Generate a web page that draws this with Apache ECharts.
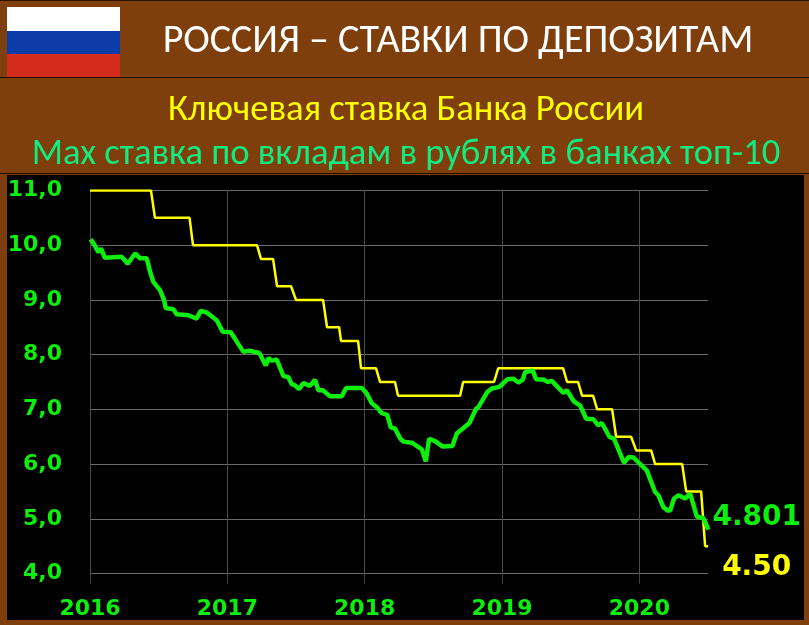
<!DOCTYPE html>
<html><head><meta charset="utf-8">
<style>html,body{margin:0;padding:0;background:#7F3F0C}#c{width:809px;height:625px}</style>
<script src="https://cdn.jsdelivr.net/npm/echarts@6/dist/echarts.min.js"></script></head>
<body><div id="c"></div>
<script>
const titleText = 'РОССИЯ – СТАВКИ ПО ДЕПОЗИТАМ';
const keyRateName = 'Ключевая ставка Банка России';
const depositName = 'Max ставка по вкладам в рублях в банках топ-10';
const yearTicks = [2016, 2017, 2018, 2019, 2020];
const valueTicks = [4, 5, 6, 7, 8, 9, 10, 11];

// Years elapsed since 2016 and the rate at each reading
const keyRateT = [0,.444,.473,.725,.750,1.216,1.245,1.333,1.362,1.464,1.500,1.697,1.726,1.814,1.828,1.952,1.974,2.083,2.112,2.221,2.243,2.695,2.717,2.942,2.972,3.445,3.474,3.554,3.583,3.663,3.693,3.802,3.831,3.940,3.977,4.086,4.115,4.312,4.341,4.450,4.479,4.501];
const keyRateV = [11,11,10.5,10.5,10,10,9.75,9.75,9.25,9.25,9,9,8.5,8.5,8.25,8.25,7.75,7.75,7.5,7.5,7.25,7.25,7.5,7.5,7.75,7.75,7.5,7.5,7.25,7.25,7,7,6.5,6.5,6.25,6.25,6,6,5.5,5.5,4.5,4.5];
const depositT = [.005,.036,.061,.080,.109,.170,.231,.275,.328,.364,.413,.437,.461,.510,.539,.551,.607,.631,.716,.777,.806,.850,.923,.966,1.025,1.117,1.160,1.233,1.280,1.299,1.323,1.360,1.408,1.444,1.469,1.493,1.522,1.554,1.602,1.639,1.663,1.695,1.748,1.833,1.865,1.979,2.015,2.052,2.088,2.125,2.165,2.190,2.221,2.258,2.282,2.343,2.416,2.445,2.469,2.513,2.569,2.639,2.671,2.763,2.811,2.828,2.894,2.926,2.981,3.039,3.083,3.119,3.151,3.168,3.224,3.248,3.307,3.331,3.363,3.447,3.472,3.525,3.569,3.612,3.666,3.698,3.727,3.782,3.816,3.889,3.921,3.957,4.055,4.115,4.139,4.176,4.205,4.224,4.253,4.285,4.334,4.370,4.419,4.467,4.503];
const depositV = [10.11,9.99,9.87,9.94,9.77,9.78,9.79,9.66,9.85,9.76,9.76,9.52,9.33,9.18,9.0,8.85,8.83,8.74,8.72,8.66,8.80,8.77,8.63,8.42,8.41,8.05,8.07,8.03,7.80,7.94,7.89,7.91,7.61,7.59,7.46,7.44,7.37,7.48,7.43,7.54,7.35,7.35,7.24,7.24,7.39,7.39,7.29,7.11,7.04,6.93,6.90,6.67,6.65,6.47,6.41,6.39,6.27,6.05,6.46,6.42,6.32,6.33,6.56,6.75,7.01,7.04,7.32,7.38,7.41,7.55,7.56,7.49,7.54,7.68,7.71,7.55,7.54,7.50,7.52,7.30,7.35,7.14,7.07,6.83,6.82,6.71,6.75,6.50,6.46,6.02,6.13,6.12,5.88,5.49,5.43,5.21,5.15,5.15,5.37,5.43,5.37,5.46,5.04,5.01,4.801];
const keyRateLabel = '4.50';
const depositLabel = '4.801';

const brown = '#7F3F0C', lime = '#0CEF0C', yellow = '#FFFF00';
const bold = '"DejaVu Sans"', head = 'Carlito, Lato, "Open Sans"';
const rect = (x, y, width, height, fill) => ({type:'rect', z:-1, silent:true, shape:{x,y,width,height}, style:{fill}});
const text = (x, y, t, size, fill) => ({type:'text', z:5, x, y, style:{text:t, fill, font:size+'px '+head, textAlign:'center', textVerticalAlign:'middle'}});
const chart = echarts.init(document.getElementById('c'), null, {renderer:'canvas'});
chart.setOption({
  animation:false,
  backgroundColor:brown,
  graphic:[
    rect(0,0,809,1,'#2a1400'), rect(0,77,809,1,'#1e0f00'), rect(0,173,809,1,'#1e0f00'),
    rect(7,175,797,445,'#000'),
    rect(7,7,113,24,'#fff'), rect(7,31,113,23,'#0B3BA6'), rect(7,54,113,23,'#D52B1E'),
    text(458,42,titleText,40,'#fff'), text(406,111,keyRateName,36.7,yellow), text(406,155,depositName,36.6,'#12EB7F')
  ],
  grid:{left:90, right:101, top:190.5, height:383, containLabel:false},
  xAxis:{
    type:'value', min:2016, max:2020.5, interval:1,
    axisLine:{show:false},
    axisTick:{show:true, length:10, lineStyle:{color:'#444'}, customValues:yearTicks},
    axisLabel:{color:lime, fontFamily:bold, fontWeight:'bold', fontSize:22, margin:25, customValues:yearTicks, formatter:v=>String(v)},
    splitLine:{show:true, lineStyle:{color:'#4c4c4c', width:1}}
  },
  yAxis:{
    type:'value', min:4, max:11, interval:1,
    axisLine:{show:false}, axisTick:{show:false},
    axisLabel:{color:lime, fontFamily:bold, fontWeight:'bold', fontSize:22, margin:28, padding:[6,0,0,0], customValues:valueTicks, formatter:v=>v.toFixed(1).replace('.',',')},
    splitLine:{show:true, lineStyle:{color:'#6a6a6a', width:1}}
  },
  series:[
    {type:'line', name:keyRateName, data:keyRateT.map((t,i)=>[2016+t,keyRateV[i]]), showSymbol:false, symbol:'none', z:3,
     lineStyle:{color:yellow, width:2.5},
     endLabel:{show:true, formatter:()=>keyRateLabel, color:yellow, fontFamily:bold, fontWeight:'bold', fontSize:28, offset:[6,22]}},
    {type:'line', name:depositName, data:depositT.map((t,i)=>[2016+t,depositV[i]]), showSymbol:false, symbol:'none', z:4,
     lineStyle:{color:lime, width:4.5},
     endLabel:{show:true, formatter:()=>depositLabel, color:lime, fontFamily:bold, fontWeight:'bold', fontSize:28, offset:[-4,-12]}}
  ]
});
</script></body></html>
